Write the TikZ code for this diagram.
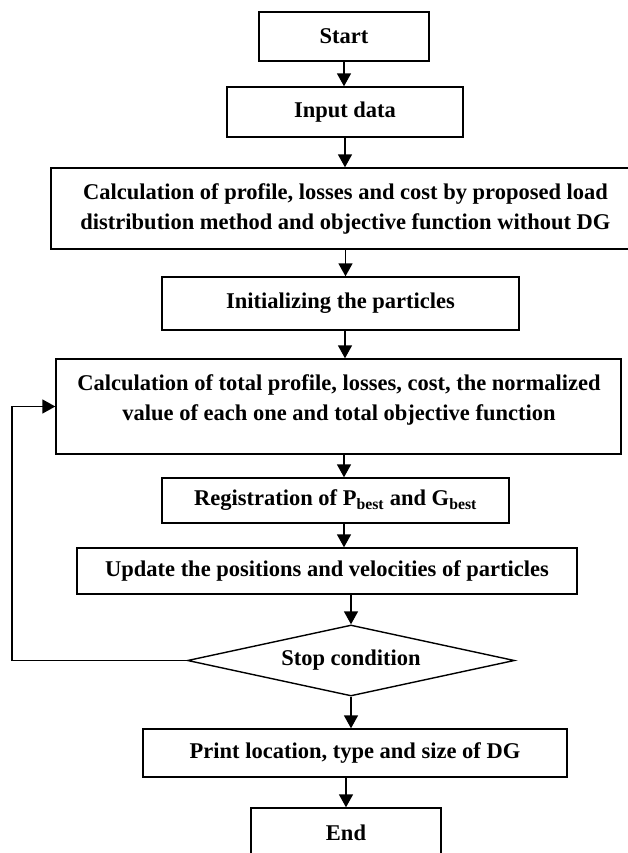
\documentclass[tikz,border=0pt]{standalone}
\usepackage{fontspec}
\setmainfont{Liberation Serif}
\usetikzlibrary{arrows.meta,shapes.geometric}
\begin{document}
\begin{tikzpicture}[x=1pt,y=-1pt,
  txtfont/.style={font=\fontsize{22.5}{30}\selectfont\bfseries},
  box/.style={draw, line width=1.4pt, inner sep=0pt, align=center, txtfont},
  arr/.style={line width=1.6pt, -{Triangle[length=13pt,width=14pt]}},
  decision/.style={draw, diamond, line width=1.4pt, inner sep=0pt, aspect=4.6, txtfont}
  ]
\useasboundingbox (0,0) rectangle (628,853);
\node[box, minimum width=170, minimum height=49] (start) at (344,36.5) {Start};
\node[box, minimum width=236, minimum height=50] (input) at (345,112) {Input data};
\node[box, minimum width=589, minimum height=81] (calc1) at (345.5,208.5)
  {Calculation of profile, losses and cost by proposed load\\distribution method and objective function without DG};
\node[box, minimum width=357, minimum height=53] (init) at (340.5,303.5) {Initializing the particles};
\node[box, minimum width=565, minimum height=95] (calc2) at (338.5,406.5) {};
\node[txtfont, align=center, inner sep=0pt] (calc2t) at (339,400)
  {Calculation of total profile, losses, cost, the normalized\\value of each one and total objective function};
\node[box, minimum width=347, minimum height=45] (reg) at (335.5,500.5)
  {Registration of P\textsubscript{best} and G\textsubscript{best}};
\node[box, minimum width=500, minimum height=46] (update) at (327,571)
  {Update the positions and velocities of particles};
\node[decision, minimum width=327, minimum height=71] (dia) at (351,660.5) {Stop condition};
\node[box, minimum width=424, minimum height=48] (print) at (355,753)
  {Print location, type and size of DG};
\node[box, minimum width=190, minimum height=50] (end) at (346,833) {End};
\coordinate (lx) at (12,0);

\draw[arr] (start.south) -- (start.south |- input.north);
\draw[arr] (input.south) -- (input.south |- calc1.north);
\draw[arr] (calc1.south) -- (calc1.south |- init.north);
\draw[arr] (init.south -| input.south) -- (calc2.north -| input.south);
\draw[arr] (calc2.south -| start.south) -- (reg.north -| start.south);
\draw[arr] (reg.south -| start.south) -- (update.north -| start.south);
\draw[arr] (update.south -| dia.north) -- (dia.north);
\draw[arr] (dia.south) -- (dia.south |- print.north);
\draw[arr] (print.south -| end.north) -- (end.north);
\draw[arr] (dia.west) -- (dia.west -| lx) |- (calc2.west);
\end{tikzpicture}
\end{document}
